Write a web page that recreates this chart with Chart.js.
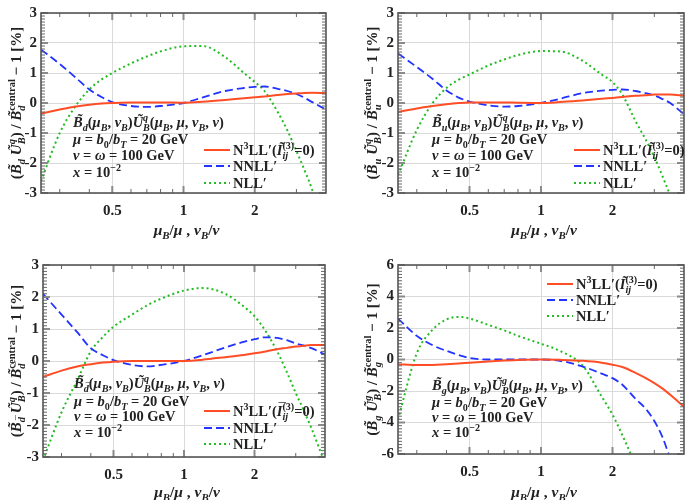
<!DOCTYPE html>
<html>
<head>
<meta charset="utf-8">
<script src="https://cdn.jsdelivr.net/npm/chart.js@4.4.1/dist/chart.umd.min.js"></script>
<style>
  body { margin: 0; background: #fff; width: 685px; height: 500px; overflow: hidden; position: relative; }
  canvas { position: absolute; }
</style>
</head>
<body>
<canvas id="pd" width="342" height="250" style="left:0;top:0"></canvas>
<canvas id="pu" width="343" height="250" style="left:342px;top:0"></canvas>
<canvas id="pdb" width="342" height="250" style="left:0;top:250px"></canvas>
<canvas id="pg" width="343" height="250" style="left:342px;top:250px"></canvas>
<script>
// scale ratio mu_B/mu = nu_B/nu (log axis)
const ratio = [0.25, 0.3, 0.35, 0.4, 0.45, 0.5, 0.6, 0.7, 0.8, 1, 1.2, 1.5, 1.8, 2, 2.2, 2.5, 2.75, 3, 3.25, 3.5, 4];
const xMajor = [0.5, 1, 2];
const xMinor = [0.3, 0.4, 0.6, 0.7, 0.8, 0.9, 3];

// B_d
const dN3LL = [-0.35, -0.22, -0.12, -0.06, -0.02, 0.0, 0.02, 0.02, 0.02, 0.01, 0.04, 0.1, 0.16, 0.19, 0.22, 0.27, 0.3, 0.32, 0.335, 0.34, 0.33];
const dNNLL = [1.78, 1.3, 0.85, 0.45, 0.2, 0.03, -0.1, -0.13, -0.1, 0.0, 0.18, 0.4, 0.5, 0.54, 0.55, 0.47, 0.4, 0.3, 0.17, 0.03, -0.22];
const dNLL  = [-2.6, -1.0, -0.1, 0.45, 0.78, 1.0, 1.32, 1.55, 1.72, 1.89, 1.9, 1.53, 1.0, 0.7, 0.4, -0.3, -0.92, -1.6, -2.25, -2.9, -4.4];

// B_u
const uN3LL = [-0.3, -0.18, -0.1, -0.04, 0.0, 0.02, 0.02, 0.02, 0.01, 0.0, 0.03, 0.08, 0.14, 0.17, 0.2, 0.24, 0.26, 0.28, 0.285, 0.28, 0.24];
const uNNLL = [1.65, 1.2, 0.8, 0.42, 0.18, 0.05, -0.08, -0.12, -0.1, 0.0, 0.14, 0.33, 0.41, 0.44, 0.45, 0.4, 0.33, 0.25, 0.13, 0.0, -0.38];
const uNLL  = [-2.4, -0.9, 0.0, 0.5, 0.78, 0.95, 1.25, 1.45, 1.6, 1.73, 1.72, 1.4, 0.95, 0.7, 0.28, -0.6, -1.2, -1.8, -2.45, -3.1, -4.6];

// B_dbar
const dbN3LL = [-0.5, -0.3, -0.17, -0.1, -0.05, -0.02, 0.0, 0.0, 0.0, 0.0, 0.04, 0.12, 0.19, 0.24, 0.29, 0.37, 0.41, 0.45, 0.48, 0.5, 0.5];
const dbNNLL = [2.1, 1.45, 0.9, 0.4, 0.18, 0.03, -0.12, -0.17, -0.12, 0.0, 0.18, 0.42, 0.6, 0.68, 0.74, 0.72, 0.65, 0.55, 0.48, 0.4, 0.2];
const dbNLL  = [-3.1, -1.6, -0.6, 0.3, 0.75, 1.07, 1.45, 1.75, 1.95, 2.2, 2.28, 2.1, 1.7, 1.4, 1.0, 0.3, -0.35, -1.0, -1.55, -2.1, -3.2];

// B_g
const gN3LL = [-0.3, -0.35, -0.35, -0.3, -0.25, -0.2, -0.12, -0.07, -0.03, 0.0, -0.02, -0.08, -0.2, -0.33, -0.48, -0.85, -1.17, -1.5, -1.85, -2.24, -3.0];
const gNNLL = [2.6, 1.5, 0.9, 0.55, 0.28, 0.1, 0.0, 0.0, 0.0, 0.0, -0.08, -0.45, -0.9, -1.18, -1.6, -2.5, -3.1, -3.9, -4.95, -6.3, null];
const gNLL  = [-3.8, 0.4, 1.9, 2.55, 2.7, 2.6, 2.2, 1.85, 1.5, 1.0, 0.55, -0.4, -2.35, -3.5, -4.8, -6.7, null, null, null, null, null];

const RED = '#ff4d26', BLUE = '#2233ff', GREEN = '#22bb22';
const FAM = "'Liberation Serif', 'DejaVu Serif', serif";

// tiny markup: $..$ italic, _{..} sub, ^{..} sup, ~X tilde, `X bar
function rich(ctx, str, x, y, size, draw) {
    let it = false, i = 0, pos = x;
    function run(level, dy) {
        const sz = size * Math.pow(0.7, level);
        let last = null;
        while (i < str.length) {
            const c = str[i];
            if (c === '}') { i++; return; }
            if (c === '$') { it = !it; i++; continue; }
            if (c === '_' || c === '^') {
                i += 2;
                const save = pos;
                let start = pos;
                if (last && last.end === pos && last.type !== c) start = last.start;
                pos = start;
                run(level + 1, dy + (c === '_' ? 0.28 : -0.42) * sz);
                const end = Math.max(pos, save);
                last = { type: c, start, end };
                pos = end;
                continue;
            }
            let acc = null;
            if (c === '~' || c === '`') { acc = c; i++; }
            const ch = str[i++];
            ctx.font = (it ? 'italic ' : '') + 'bold ' + sz + 'px ' + FAM;
            const w = ctx.measureText(ch).width;
            if (draw) {
                ctx.fillText(ch, pos, y + dy);
                if (acc) {
                    const mark = acc === '~' ? '\u02DC' : '\u00AF';
                    const mw = ctx.measureText(mark).width;
                    ctx.fillText(mark, pos + (w - mw) / 2 + (it ? sz * 0.1 : 0), y + dy - sz * 0.2);
                }
            }
            pos += w;
            last = null;
        }
    }
    run(0, 0);
    return pos - x;
}

function drawRich(ctx, str, x, y, size, align) {
    let w = 0;
    if (align !== 'left') w = rich(ctx, str, 0, 0, size, false);
    const x0 = align === 'center' ? x - w / 2 : x;
    rich(ctx, str, x0, y, size, true);
}

const framePlugin = o => ({
    id: 'frame',
    afterDatasetsDraw(chart) {
        const { ctx, chartArea: a, scales: { x, y } } = chart;
        ctx.save();
        // y ticks, both sides
        const n = Math.round((o.ymax - o.ymin) / o.yminor);
        for (let k = 0; k <= n; k++) {
            const v = o.ymin + k * o.yminor;
            const major = Math.abs(v / o.ystep - Math.round(v / o.ystep)) < 1e-6;
            const py = y.getPixelForValue(v);
            const len = major ? 7 : 4;
            ctx.strokeStyle = major ? '#8a8a8a' : '#666';
            ctx.lineWidth = major ? 2 : 1;
            ctx.beginPath();
            ctx.moveTo(a.left, py); ctx.lineTo(a.left + len, py);
            ctx.moveTo(a.right, py); ctx.lineTo(a.right - len, py);
            ctx.stroke();
        }
        // x ticks, top and bottom
        [...xMajor.map(v => [v, true]), ...xMinor.map(v => [v, false])].forEach(([v, major]) => {
            const px = x.getPixelForValue(v);
            const len = major ? 7 : 4;
            ctx.strokeStyle = major ? '#8a8a8a' : '#666';
            ctx.lineWidth = major ? 2 : 1;
            ctx.beginPath();
            ctx.moveTo(px, a.bottom); ctx.lineTo(px, a.bottom - len);
            ctx.moveTo(px, a.top); ctx.lineTo(px, a.top + len);
            ctx.stroke();
        });
        ctx.strokeStyle = '#555';
        ctx.lineWidth = 1.6;
        ctx.strokeRect(a.left, a.top, a.right - a.left, a.bottom - a.top);
        ctx.restore();
    },
    afterDraw(chart) {
        const { ctx, chartArea: a } = chart;
        ctx.save();
        ctx.fillStyle = '#222';
        ctx.textBaseline = 'alphabetic';
        ctx.textAlign = 'left';
        // annotation block
        o.notes.forEach((s, k) => drawRich(ctx, s, o.noteX, o.noteY[k], 14.5, 'left'));
        // legend
        chart.data.datasets.forEach((d, k) => {
            const ly = o.legY[k];
            ctx.strokeStyle = d.borderColor;
            ctx.lineWidth = d.borderWidth;
            ctx.setLineDash(d.borderDash);
            ctx.beginPath();
            ctx.moveTo(o.legX, ly); ctx.lineTo(o.legX + 26, ly);
            ctx.stroke();
            ctx.setLineDash([]);
            drawRich(ctx, o.labels[k], o.legX + 29, ly + 5, 14.5, 'left');
        });
        // axis titles
        drawRich(ctx, '$μ$_{$B$}/$μ$ , $ν$_{$B$}/$ν$', (a.left + a.right) / 2 + 3, o.xTitleY, 15.5, 'center');
        ctx.translate(o.yTitleX, (a.top + a.bottom) / 2);
        ctx.rotate(-Math.PI / 2);
        drawRich(ctx, o.yTitle, 0, 0, 15, 'center');
        ctx.restore();
    }
});

function panel(id, o) {
    const ds = (vals, color, dash, w) => ({
        data: ratio.map((x, i) => ({ x, y: vals[i] })),
        borderColor: color, borderDash: dash, borderWidth: w,
        pointRadius: 0, fill: false, cubicInterpolationMode: 'monotone'
    });
    const tickFont = { family: FAM, size: 15, weight: 'bold' };
    new Chart(document.getElementById(id), {
        type: 'line',
        data: { datasets: [ds(o.n3ll, RED, [], 2), ds(o.nnll, BLUE, [8, 4], 1.8), ds(o.nll, GREEN, [2, 3], 2)] },
        options: {
            responsive: false, animation: false, devicePixelRatio: 1,
            layout: { padding: { top: o.top, right: o.right, left: 0, bottom: 0 } },
            scales: {
                x: {
                    type: 'logarithmic', min: 0.25, max: 4,
                    afterBuildTicks: s => { s.ticks = xMajor.map(v => ({ value: v })); },
                    afterFit: s => { s.height = o.xh; },
                    grid: { color: '#dadada', drawTicks: false },
                    border: { display: false },
                    ticks: { padding: 9, color: '#222', font: tickFont, maxRotation: 0, autoSkip: false, callback: v => String(v) }
                },
                y: {
                    min: o.ymin, max: o.ymax,
                    afterFit: s => { s.width = o.yw; },
                    grid: { color: '#dadada', drawTicks: false },
                    border: { display: false },
                    ticks: { stepSize: o.ystep, padding: 4, color: '#222', font: tickFont }
                }
            },
            plugins: { legend: { display: false }, tooltip: { enabled: false } }
        },
        plugins: [framePlugin(o)]
    });
}

const legQ = ['N^{3}LL′($~I$_{$ij$}^{(3)}=0)', 'NNLL′', 'NLL′'];
const notesTail = ['$μ$ = $b$_{0}/$b$_{$T$} = 20 GeV', '$ν$ = $ω$ = 100 GeV', '$x$ = 10^{−2}'];

panel('pd', {
    n3ll: dN3LL, nnll: dNNLL, nll: dNLL,
    ymin: -3, ymax: 3, ystep: 1, yminor: 0.1,
    top: 5, right: 16, yw: 41, xh: 57,
    notes: ['$~B$_{$d$}($μ$_{$B$}, $ν$_{$B$})$~U$_{$B$}^{$q$}($μ$_{$B$}, $μ$, $ν$_{$B$}, $ν$)', ...notesTail],
    noteX: 73, noteY: [127, 144, 160, 177],
    labels: legQ, legX: 204, legY: [150, 166, 183],
    xTitleY: 235, yTitleX: 21,
    yTitle: '($~B$_{$d$} $~U$_{$B$}^{$q$}) / $~B$_{$d$}^{central} − 1 [%]'
});
panel('pu', {
    n3ll: uN3LL, nnll: uNNLL, nll: uNLL,
    ymin: -3, ymax: 3, ystep: 1, yminor: 0.1,
    top: 5, right: 1, yw: 56, xh: 57,
    notes: ['$~B$_{$u$}($μ$_{$B$}, $ν$_{$B$})$~U$_{$B$}^{$q$}($μ$_{$B$}, $μ$, $ν$_{$B$}, $ν$)', ...notesTail],
    noteX: 90, noteY: [127, 144, 160, 177],
    labels: legQ, legX: 232, legY: [150, 166, 183],
    xTitleY: 235, yTitleX: 35,
    yTitle: '($~B$_{$u$} $~U$_{$B$}^{$q$}) / $~B$_{$u$}^{central} − 1 [%]'
});
panel('pdb', {
    n3ll: dbN3LL, nnll: dbNNLL, nll: dbNLL,
    ymin: -3, ymax: 3, ystep: 1, yminor: 0.1,
    top: 15, right: 17, yw: 43, xh: 43,
    notes: ['$~B$_{$`d$}($μ$_{$B$}, $ν$_{$B$})$~U$_{$B$}^{$q$}($μ$_{$B$}, $μ$, $ν$_{$B$}, $ν$)', ...notesTail],
    noteX: 74, noteY: [138, 156, 171, 187],
    labels: ['N^{3}LL′($`I$_{$ij$}^{(3)}=0)', 'NNLL′', 'NLL′'], legX: 204, legY: [161, 178, 194],
    xTitleY: 247, yTitleX: 21,
    yTitle: '($~B$_{$`d$} $~U$_{$B$}^{$q$}) / $~B$_{$`d$}^{central} − 1 [%]'
});
panel('pg', {
    n3ll: gN3LL, nnll: gNNLL, nll: gNLL,
    ymin: -6, ymax: 6, ystep: 2, yminor: 0.2,
    top: 15, right: 1, yw: 56, xh: 46,
    notes: ['$~B$_{$g$}($μ$_{$B$}, $ν$_{$B$})$~U$_{$B$}^{$g$}($μ$_{$B$}, $μ$, $ν$_{$B$}, $ν$)', ...notesTail],
    noteX: 90, noteY: [140, 157, 172, 187],
    labels: legQ, legX: 205, legY: [34, 50, 66],
    xTitleY: 247, yTitleX: 35,
    yTitle: '($~B$_{$g$} $~U$_{$B$}^{$g$}) / $~B$_{$g$}^{central} − 1 [%]'
});
</script>
</body>
</html>
